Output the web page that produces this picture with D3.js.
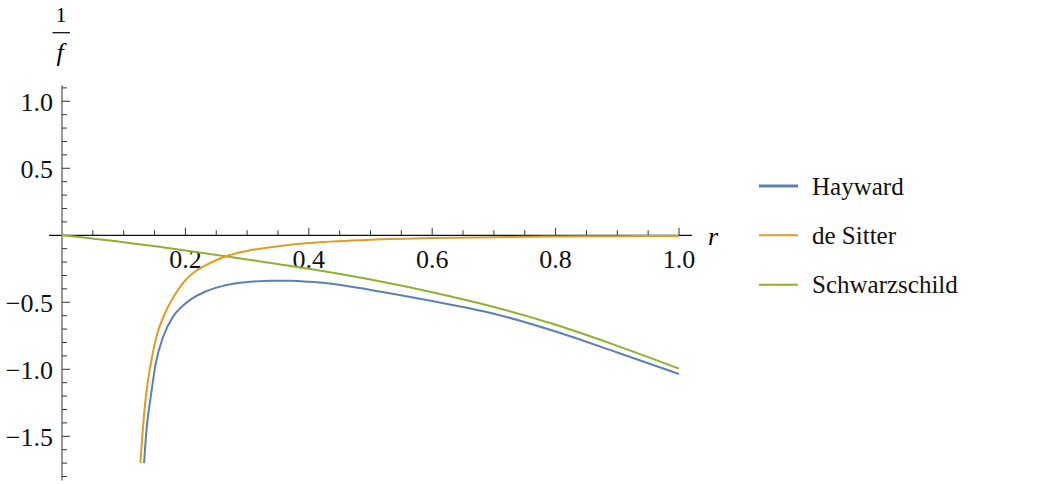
<!DOCTYPE html>
<html>
	<head>
		<title>1/f curves</title>
		<style>
			body, html {
				margin: 0;
				padding: 0;
				background: #fff;
			}
			svg text {
				font-family: "Liberation Serif", "Times New Roman", Times, "DejaVu Serif", "Noto Serif", FreeSerif, Tinos, serif;
			}
		</style>
	</head>
	<body>

		<svg id="svg" width="1040" height="484"></svg>

		<script src="https://d3js.org/d3.v7.min.js"></script>
		<script>
			// values: r and 1/f
			const haywardR = [0.133, 0.137, 0.144, 0.152, 0.164, 0.18, 0.195, 0.21, 0.23, 0.255, 0.28, 0.31, 0.34, 0.37, 0.4, 0.43, 0.5, 0.6, 0.7, 0.8, 0.9, 1.0]
			const haywardV = [-1.70, -1.45, -1.20, -0.955, -0.757, -0.607, -0.53, -0.475, -0.425, -0.385, -0.36, -0.345, -0.339, -0.340, -0.347, -0.358, -0.408, -0.491, -0.585, -0.718, -0.875, -1.035]

			const sitterR = [0.127, 0.131, 0.136, 0.144, 0.153, 0.167, 0.186, 0.2, 0.218, 0.24, 0.267, 0.3, 0.35, 0.4, 0.5, 0.6, 0.7, 0.8, 0.9, 1.0]
			const sitterV = [-1.70, -1.45, -1.20, -0.955, -0.757, -0.582, -0.422, -0.335, -0.263, -0.207, -0.155, -0.117, -0.082, -0.058, -0.034, -0.021, -0.014, -0.009, -0.007, -0.005]

			const schwarzR = [0, 0.1, 0.2, 0.3, 0.4, 0.5, 0.6, 0.7, 0.8, 0.9, 1.0]
			const schwarzV = [0, -0.052, -0.113, -0.18, -0.25, -0.33, -0.425, -0.535, -0.668, -0.825, -0.995]

			const seriesNames = ['Hayward', 'de Sitter', 'Schwarzschild']
			const seriesColors = ['#5E81B5', '#E19C24', '#8FB032']

			const xTickLabels = [0.2, 0.4, 0.6, 0.8, 1.0]
			const yTickLabels = [-1.5, -1.0, -0.5, 0.5, 1.0]

			const series = [
				{ name: seriesNames[0], color: seriesColors[0], pts: haywardR.map((r, i) => [r, haywardV[i]]) },
				{ name: seriesNames[1], color: seriesColors[1], pts: sitterR.map((r, i) => [r, sitterV[i]]) },
				{ name: seriesNames[2], color: seriesColors[2], pts: schwarzR.map((r, i) => [r, schwarzV[i]]) }
			]

			const x = d3.scaleLinear().domain([0, 1]).range([62, 679])
			const y = d3.scaleLinear().domain([-1.83, 1.12]).range([480.5, 85.2])

			const svg = d3.select('#svg')
			const fmt = d => (d < 0 ? '\u2212' : '') + Math.abs(d).toFixed(1)

			// x axis
			svg.append('line')
				.attr('x1', x(-0.021)).attr('x2', x(1.021))
				.attr('y1', y(0)).attr('y2', y(0))
				.attr('stroke', '#111').attr('stroke-width', 1.2)

			const xMinor = d3.range(1, 21).map(i => i * 0.05)
			svg.append('g')
				.selectAll('line')
				.data(xMinor)
				.enter()
				.append('line')
				.attr('x1', d => x(d)).attr('x2', d => x(d))
				.attr('y1', y(0))
				.attr('y2', (d, i) => y(0) - ((i + 1) % 4 === 0 ? 7.5 : 5))
				.attr('stroke', '#333').attr('stroke-width', 1)

			svg.append('g')
				.selectAll('text')
				.data(xTickLabels)
				.enter()
				.append('text')
				.attr('x', d => x(d))
				.attr('y', 267.5)
				.attr('text-anchor', 'middle')
				.attr('font-size', 26)
				.attr('fill', '#111')
				.text(fmt)

			svg.append('text')
				.attr('x', 708)
				.attr('y', 245)
				.attr('font-size', 26)
				.attr('font-style', 'italic')
				.text('r')

			// y axis
			svg.append('line')
				.attr('x1', x(0)).attr('x2', x(0))
				.attr('y1', y(1.12)).attr('y2', y(-1.83))
				.attr('stroke', '#808080').attr('stroke-width', 1.6)

			const yMinor = d3.range(-18, 12).map(i => i / 10).filter(d => Math.abs(d) > 1e-9)
			svg.append('g')
				.selectAll('line')
				.data(yMinor)
				.enter()
				.append('line')
				.attr('x1', x(0)).attr('x2', d => x(0) + (Math.abs(Math.round(d * 10)) % 5 === 0 ? 8 : 5))
				.attr('y1', d => y(d)).attr('y2', d => y(d))
				.attr('stroke', '#333').attr('stroke-width', 1)

			svg.append('g')
				.selectAll('text')
				.data(yTickLabels)
				.enter()
				.append('text')
				.attr('x', 53)
				.attr('y', d => y(d) + 9.3)
				.attr('text-anchor', 'end')
				.attr('font-size', 26)
				.attr('fill', '#111')
				.text(fmt)

			// 1/f label
			svg.append('text')
				.attr('x', 61).attr('y', 22)
				.attr('text-anchor', 'middle')
				.attr('font-size', 22)
				.text('1')
			svg.append('line')
				.attr('x1', 52.5).attr('x2', 70)
				.attr('y1', 32.7).attr('y2', 32.7)
				.attr('stroke', '#111').attr('stroke-width', 1.3)
			svg.append('text')
				.attr('x', 60).attr('y', 61)
				.attr('text-anchor', 'middle')
				.attr('font-size', 26)
				.attr('font-style', 'italic')
				.text('f')

			// curves
			const line = d3.line()
				.x(d => x(d[0]))
				.y(d => y(d[1]))
				.curve(d3.curveMonotoneX)

			svg.append('g')
				.selectAll('path')
				.data(series.slice().reverse())
				.enter()
				.append('path')
				.attr('d', d => line(d.pts))
				.attr('fill', 'none')
				.attr('stroke', d => d.color)
				.attr('stroke-width', 2)

			// legend
			const legendY = [186, 235.3, 284.7]
			const legend = svg.append('g')
				.selectAll('g')
				.data(series)
				.enter()
				.append('g')
				.attr('transform', (d, i) => `translate(0, ${legendY[i]})`)

			legend.append('line')
				.attr('x1', 759).attr('x2', 798)
				.attr('stroke', d => d.color)
				.attr('stroke-width', (d, i) => i === 0 ? 3 : 2)

			legend.append('text')
				.attr('x', 812)
				.attr('y', 8.5)
				.attr('font-size', 25)
				.attr('fill', '#111')
				.text(d => d.name)
		</script>
	</body>
</html>
